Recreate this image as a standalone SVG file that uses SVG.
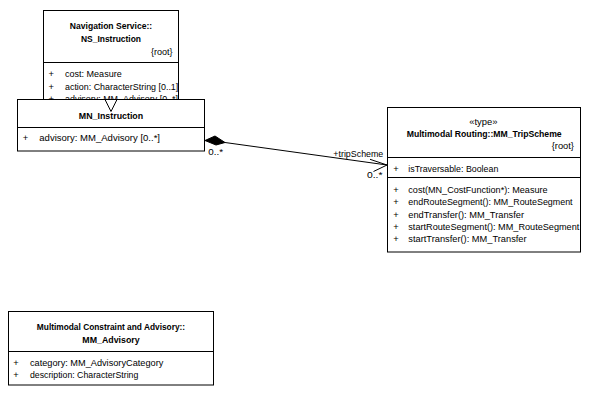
<svg xmlns="http://www.w3.org/2000/svg" width="591" height="415" viewBox="0 0 591 415">
  <style>
    .box { fill: #ffffff; stroke: #000000; stroke-width: 1; }
    .sep { stroke: #000000; stroke-width: 1; }
    text { font-family: "Liberation Sans", Arial, sans-serif; font-size: 9.3px; fill: #000000; }
    .title { font-weight: bold; font-size: 9.2px; text-anchor: middle; }
    .mid { text-anchor: middle; }
    .end { text-anchor: end; }
    .edge { fill: none; stroke: #000000; stroke-width: 1; }
  </style>
  <defs>
    <clipPath id="clipNS"><rect x="44" y="11" width="134.5" height="104"/></clipPath>
    <clipPath id="clipTS"><rect x="388" y="108" width="192" height="143"/></clipPath>
  </defs>

  <!-- Navigation Service::NS_Instruction -->
  <g id="ns-instruction">
    <rect class="box" x="43.5" y="10.5" width="135" height="105"/>
    <text class="title" x="111" y="29.3" textLength="82.3" lengthAdjust="spacingAndGlyphs">Navigation Service::</text>
    <text class="title" x="111" y="42.3" textLength="60" lengthAdjust="spacingAndGlyphs">NS_Instruction</text>
    <text class="end" x="172.5" y="55.3" textLength="21.6" lengthAdjust="spacingAndGlyphs">{root}</text>
    <line class="sep" x1="43.5" y1="62.5" x2="178.5" y2="62.5"/>
    <g clip-path="url(#clipNS)">
      <text x="48.5" y="76.8">+</text>
      <text x="65" y="76.8" textLength="56.7" lengthAdjust="spacingAndGlyphs">cost: Measure</text>
      <text x="48.5" y="89.6">+</text>
      <text x="65" y="89.6" textLength="113.3" lengthAdjust="spacingAndGlyphs">action: CharacterString [0..1]</text>
      <text x="48.5" y="102.4">+</text>
      <text x="65" y="102.4" textLength="113" lengthAdjust="spacingAndGlyphs">advisory: MM_Advisory [0..*]</text>
    </g>
  </g>

  <!-- MN_Instruction -->
  <g id="mn-instruction">
    <rect class="box" x="17.5" y="99.5" width="187" height="51.5"/>
    <text class="title" x="111" y="119.3" textLength="64.3" lengthAdjust="spacingAndGlyphs">MN_Instruction</text>
    <line class="sep" x1="17.5" y1="127.5" x2="204.5" y2="127.5"/>
    <text x="22.7" y="140.6">+</text>
    <text x="39.3" y="140.6" textLength="120.7" lengthAdjust="spacingAndGlyphs">advisory: MM_Advisory [0..*]</text>
  </g>

  <!-- Multimodal Routing::MM_TripScheme -->
  <g id="mm-tripscheme">
    <rect class="box" x="387.5" y="107.5" width="193" height="144.5"/>
    <text class="mid" x="483.3" y="125" textLength="28.3" lengthAdjust="spacingAndGlyphs">«type»</text>
    <text class="title" x="484.2" y="136.6" textLength="155" lengthAdjust="spacingAndGlyphs">Multimodal Routing::MM_TripScheme</text>
    <text class="end" x="574" y="148.6" textLength="22.3" lengthAdjust="spacingAndGlyphs">{root}</text>
    <line class="sep" x1="387.5" y1="157.5" x2="580.5" y2="157.5"/>
    <text x="393.3" y="171.6">+</text>
    <text x="408.3" y="171.6" textLength="90" lengthAdjust="spacingAndGlyphs">isTraversable: Boolean</text>
    <line class="sep" x1="387.5" y1="177.5" x2="580.5" y2="177.5"/>
    <g clip-path="url(#clipTS)">
      <text x="393.3" y="192.6">+</text>
      <text x="408.3" y="192.6" textLength="139.3" lengthAdjust="spacingAndGlyphs">cost(MN_CostFunction*): Measure</text>
      <text x="393.3" y="205">+</text>
      <text x="408.3" y="205" textLength="164.3" lengthAdjust="spacingAndGlyphs">endRouteSegment(): MM_RouteSegment</text>
      <text x="393.3" y="217.5">+</text>
      <text x="408.3" y="217.5" textLength="115.7" lengthAdjust="spacingAndGlyphs">endTransfer(): MM_Transfer</text>
      <text x="393.3" y="229.9">+</text>
      <text x="408.3" y="229.9" textLength="171" lengthAdjust="spacingAndGlyphs">startRouteSegment(): MM_RouteSegment</text>
      <text x="393.3" y="242.4">+</text>
      <text x="408.3" y="242.4" textLength="118.3" lengthAdjust="spacingAndGlyphs">startTransfer(): MM_Transfer</text>
    </g>
  </g>

  <!-- Multimodal Constraint and Advisory::MM_Advisory -->
  <g id="mm-advisory">
    <rect class="box" x="8.5" y="311.5" width="205" height="73.5"/>
    <text class="title" x="111" y="330" textLength="148.3" lengthAdjust="spacingAndGlyphs">Multimodal Constraint and Advisory::</text>
    <text class="title" x="111" y="343.3" textLength="57.3" lengthAdjust="spacingAndGlyphs">MM_Advisory</text>
    <line class="sep" x1="8.5" y1="351.5" x2="213.5" y2="351.5"/>
    <text x="13.3" y="365.6">+</text>
    <text x="30" y="365.6" textLength="133.3" lengthAdjust="spacingAndGlyphs">category: MM_AdvisoryCategory</text>
    <text x="13.3" y="378.4">+</text>
    <text x="30" y="378.4" textLength="108.3" lengthAdjust="spacingAndGlyphs">description: CharacterString</text>
  </g>

  <!-- connectors -->
  <g id="connectors">
    <!-- generalization: MN_Instruction to NS_Instruction -->
    <polygon points="105,99.5 117,99.5 111,111.5" fill="#ffffff" stroke="#000000" stroke-width="1"/>
    <!-- composition: MN_Instruction to MM_TripScheme -->
    <polygon points="205,140.5 215,136 225,142.5 216,145" fill="#000000" stroke="#000000" stroke-width="1"/>
    <line class="edge" x1="225" y1="142.5" x2="387" y2="165"/>
    <polyline class="edge" points="370,159.3 387,165 373.5,171.5"/>
    <text x="208.3" y="155.2" textLength="14.7" lengthAdjust="spacingAndGlyphs">0..*</text>
    <text x="333.3" y="156.6" textLength="50" lengthAdjust="spacingAndGlyphs">+tripScheme</text>
    <text x="367" y="178.3" textLength="15.5" lengthAdjust="spacingAndGlyphs">0..*</text>
  </g>
</svg>
